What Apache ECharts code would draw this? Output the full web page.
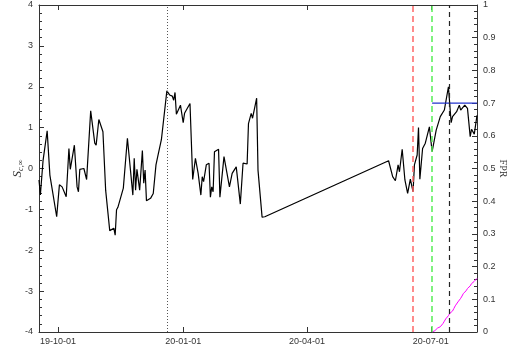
<!DOCTYPE html>
<html>
<head>
<meta charset="utf-8">
<script src="https://cdn.jsdelivr.net/npm/echarts@6/dist/echarts.min.js"></script>
<style>
  html, body { margin: 0; padding: 0; background: #fff; }
  #chart { width: 510px; height: 351px; }
</style>
</head>
<body>
<div id="chart"></div>
<script>
// Daily score S_{c,∞} (left axis)
const sDates = [
  '2019-09-17','2019-09-18','2019-09-20','2019-09-23','2019-09-24','2019-09-25','2019-09-26','2019-09-30',
  '2019-10-02','2019-10-04','2019-10-07','2019-10-09','2019-10-10','2019-10-13','2019-10-15','2019-10-16',
  '2019-10-17','2019-10-20','2019-10-22','2019-10-25','2019-10-28','2019-10-29','2019-10-31','2019-11-03',
  '2019-11-05','2019-11-06','2019-11-08','2019-11-11','2019-11-12','2019-11-13','2019-11-14','2019-11-15',
  '2019-11-18','2019-11-21','2019-11-25','2019-11-26','2019-11-27','2019-11-28','2019-11-30','2019-12-02',
  '2019-12-03','2019-12-04','2019-12-05','2019-12-08','2019-12-10','2019-12-12','2019-12-13','2019-12-16',
  '2019-12-17','2019-12-20','2019-12-22','2019-12-24','2019-12-25','2019-12-26','2019-12-27','2019-12-30',
  '2020-01-01','2020-01-02','2020-01-06','2020-01-08','2020-01-10','2020-01-12','2020-01-14','2020-01-15',
  '2020-01-16','2020-01-18','2020-01-20','2020-01-21','2020-01-22','2020-01-23','2020-01-24','2020-01-27',
  '2020-01-28','2020-01-31','2020-02-04','2020-02-06','2020-02-09','2020-02-10','2020-02-12','2020-02-14',
  '2020-02-17','2020-02-18','2020-02-20','2020-02-21','2020-02-24','2020-02-25','2020-02-28','2020-03-01',
  '2020-05-31','2020-06-03','2020-06-05','2020-06-07','2020-06-08','2020-06-10','2020-06-12','2020-06-14',
  '2020-06-16','2020-06-18','2020-06-19','2020-06-21','2020-06-22','2020-06-23','2020-06-25','2020-06-27',
  '2020-06-30','2020-07-02','2020-07-05','2020-07-08','2020-07-11','2020-07-14','2020-07-16','2020-07-17',
  '2020-07-20','2020-07-22','2020-07-23','2020-07-26','2020-07-28','2020-07-30','2020-07-31','2020-08-02',
  '2020-08-04'
];
const sValues = [
  -0.28, -0.65, 0.20, 0.92, 0.92, -0.16, -0.20, -1.18,
  -0.40, -0.45, -0.69, 0.49, -0.02, 0.57, -0.45, -0.57,
  -0.02, 0.00, -0.27, 1.41, 0.62, 0.57, 1.20, 0.90,
  -0.53, -0.57, -1.52, -1.46, -1.63, -1.01, -0.95, -0.93,
  -0.48, 0.74, -0.65, 0.25, -0.53, -0.02, -0.53, 0.44,
  -0.36, -0.04, -0.79, -0.73, -0.61, 0.09, 0.25, 0.71,
  0.74, 1.90, 1.80, 1.77, 1.67, 1.86, 1.33, 1.55,
  1.12, 1.35, 1.59, -0.27, 0.25, -0.12, -0.65, -0.20,
  -0.32, 0.09, 0.13, -0.70, -0.45, -0.57, 0.41, 0.47,
  -0.70, 0.29, -0.45, -0.12, 0.04, -0.26, -0.87, 0.13,
  0.11, 1.10, 1.35, 1.23, 1.72, -0.04, -1.19, -1.18,
  0.19, -0.20, -0.30, 0.09, -0.08, 0.47, -0.28, -0.61,
  -0.26, -0.57, 0.09, 0.33, 1.00, -0.26, 0.49, 0.62,
  1.02, 0.41, 0.94, 1.27, 1.43, 2.00, 1.12, 1.27,
  1.39, 1.55, 1.43, 1.55, 1.47, 0.78, 0.96, 0.84,
  1.30
];

// False positive rate (right axis)
const fprDates = [
  '2020-07-02','2020-07-03','2020-07-04','2020-07-05','2020-07-06','2020-07-07','2020-07-08','2020-07-09',
  '2020-07-10','2020-07-11','2020-07-12','2020-07-13','2020-07-14','2020-07-15','2020-07-16','2020-07-17',
  '2020-07-18','2020-07-19','2020-07-20','2020-07-21','2020-07-22','2020-07-23','2020-07-24','2020-07-25',
  '2020-07-26','2020-07-27','2020-07-28','2020-07-29','2020-07-30','2020-07-31','2020-08-01','2020-08-02',
  '2020-08-03','2020-08-04'
];
const fprValues = [
  0.000, 0.005, 0.004, 0.010, 0.012, 0.011, 0.016, 0.020,
  0.026, 0.033, 0.040, 0.046, 0.050, 0.057, 0.062, 0.064,
  0.072, 0.080, 0.086, 0.092, 0.097, 0.103, 0.110, 0.118,
  0.123, 0.126, 0.133, 0.136, 0.141, 0.148, 0.152, 0.155,
  0.160, 0.164
];

// FPR threshold level and its span
const thresholdDates = ['2020-07-02', '2020-08-04'];
const thresholdFPR = [0.7, 0.7];

// Event markers
const dottedDate = '2019-12-20';
const redDate = '2020-06-18';
const greenDate = '2020-07-02';
const blackDate = '2020-07-14 12:00';

// Axis ranges and tick labels
const xStart = '2019-09-17';
const xEnd = '2020-08-04';
const xTickDates = ['2019-10-01', '2020-01-01', '2020-04-01', '2020-07-01'];

const P = d => +echarts.time.parse(d);
const xTicks = xTickDates.map(P);
const zip = (xs, ys) => xs.map((x, i) => [P(x), ys[i]]);

const axisColor = '#333';
const labelFont = { fontFamily: 'Liberation Sans, Arial, sans-serif', fontSize: 9, color: '#333' };

function vline(date, color, type, width) {
  return {
    type: 'line', xAxisIndex: 0, yAxisIndex: 0, data: [], silent: true,
    markLine: {
      symbol: 'none', silent: true, animation: false,
      label: { show: false },
      lineStyle: { color: color, type: type, width: width },
      data: [{ xAxis: P(date) }]
    }
  };
}

const xBase = {
  type: 'value',
  min: P(xStart), max: P(xEnd),
  splitLine: { show: false }
};

const chart = echarts.init(document.getElementById('chart'), null, { renderer: 'canvas' });
chart.setOption({
  animation: false,
  backgroundColor: '#fff',
  grid: { left: 39, right: 33, top: 5, bottom: 19, containLabel: false, outerBoundsMode: 'none' },
  xAxis: [Object.assign({}, xBase, {
    position: 'bottom',
    axisLine: { show: true, onZero: false, lineStyle: { color: axisColor, width: 1 } },
    axisTick: { show: true, inside: true, length: 5, customValues: xTicks, lineStyle: { color: axisColor } },
    axisLabel: {
      show: true, customValues: xTicks, margin: 5, ...labelFont,
      formatter: v => echarts.time.format(v, '{yy}-{MM}-{dd}', false)
    }
  }), Object.assign({}, xBase, {
    position: 'top',
    axisLine: { show: true, onZero: false, lineStyle: { color: axisColor, width: 1 } },
    axisTick: { show: true, inside: true, length: 5, customValues: xTicks, lineStyle: { color: axisColor } },
    axisLabel: { show: false }
  })],
  yAxis: [{
    type: 'value', min: -4, max: 4, interval: 1, position: 'left',
    name: '{s|S}{sub|c,∞}',
    nameLocation: 'middle', nameGap: 14, nameRotate: 90, nameMoveOverlap: false,
    nameTextStyle: {
      rich: {
        s: { fontFamily: 'Liberation Serif, serif', fontStyle: 'italic', fontSize: 13, color: '#333' },
        sub: { fontFamily: 'Liberation Serif, serif', fontStyle: 'italic', fontSize: 8, color: '#333', verticalAlign: 'bottom', padding: [7, 0, 0, 0] }
      }
    },
    axisLine: { show: true, lineStyle: { color: axisColor, width: 1 } },
    axisTick: { show: true, inside: true, length: 5, lineStyle: { color: axisColor } },
    minorTick: { show: true, splitNumber: 5, length: 3, lineStyle: { color: axisColor } },
    axisLabel: { margin: 6, ...labelFont },
    splitLine: { show: false }
  }, {
    type: 'value', min: 0, max: 1, interval: 0.1, position: 'right',
    name: 'FPR',
    nameLocation: 'middle', nameGap: 21, nameRotate: -90, nameMoveOverlap: false,
    nameTextStyle: { fontFamily: 'Liberation Serif, serif', fontSize: 10, color: '#333' },
    axisLine: { show: true, lineStyle: { color: axisColor, width: 1 } },
    axisTick: { show: true, inside: true, length: 5, lineStyle: { color: axisColor } },
    minorTick: { show: true, splitNumber: 5, length: 3, lineStyle: { color: axisColor } },
    axisLabel: { margin: 6, ...labelFont, formatter: v => String(+v.toFixed(1)) },
    splitLine: { show: false }
  }],
  series: [
    vline(dottedDate, '#555', [1, 2], 1),
    vline(redDate, '#ff6666', [6, 4], 1.5),
    vline(greenDate, '#55ee55', [6, 4], 1.5),
    vline(blackDate, '#222', [5, 4], 1.2),
    {
      type: 'line', name: 'score', xAxisIndex: 0, yAxisIndex: 0,
      data: zip(sDates, sValues), showSymbol: false, symbol: 'none',
      lineStyle: { color: '#000', width: 1.2 }
    },
    {
      type: 'line', name: 'threshold', xAxisIndex: 0, yAxisIndex: 1,
      data: zip(thresholdDates, thresholdFPR), showSymbol: false, symbol: 'none',
      lineStyle: { color: '#2233cc', width: 1.2 }
    },
    {
      type: 'line', name: 'FPR', xAxisIndex: 0, yAxisIndex: 1,
      data: zip(fprDates, fprValues), showSymbol: false, symbol: 'none',
      lineStyle: { color: '#ff00ff', width: 1 }
    }
  ]
});
</script>
</body>
</html>
